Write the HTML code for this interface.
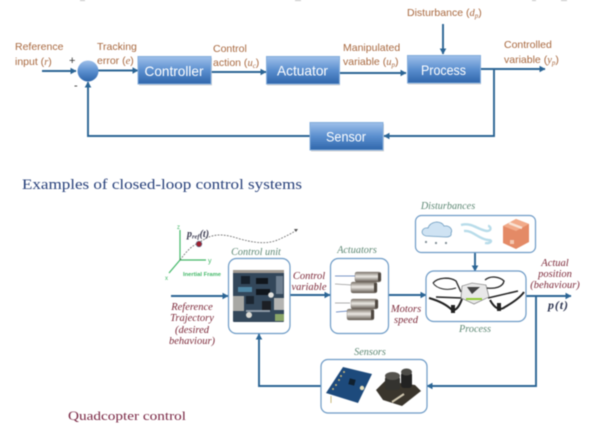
<!DOCTYPE html>
<html>
<head>
<meta charset="utf-8">
<style>
html,body{margin:0;padding:0;background:#fff}
svg{display:block;filter:blur(.5px)}
.l{font:10.5px "Liberation Sans",sans-serif;fill:#a8683f}
.m{font:italic 10.5px "Liberation Serif",serif}
.b{font:14px "Liberation Sans",sans-serif;fill:#fff;text-anchor:middle}
.r{font:italic 10.5px "Liberation Serif",serif;fill:#7d2a3a;text-anchor:middle}
.g{font:italic 10.2px "Liberation Serif",serif;fill:#5d8874;text-anchor:middle}
</style>
</head>
<body>
<svg width="608" height="436" viewBox="0 0 608 436" xmlns="http://www.w3.org/2000/svg">
<defs>
<linearGradient id="bl" x1="0" y1="0" x2="0" y2="1">
<stop offset="0" stop-color="#9fc0ea"/><stop offset=".5" stop-color="#5b8fcf"/><stop offset="1" stop-color="#2f66ab"/>
</linearGradient>
<linearGradient id="mt" x1="0" y1="0" x2="0" y2="1">
<stop offset="0" stop-color="#7d756c"/><stop offset=".45" stop-color="#ece9e4"/><stop offset="1" stop-color="#5f574f"/>
</linearGradient>
<marker id="a" markerWidth="7" markerHeight="7" refX="5.500" refY="3.500" orient="auto" markerUnits="userSpaceOnUse">
<path d="M0 .2L6 3.500L0 6.800z" fill="#2b6595"/>
</marker>
</defs>
<rect width="608" height="436" fill="#fff"/>
<g fill="#c4c4c4">
<rect x="80" y="0" width="5" height="1"/><rect x="295" y="0" width="6" height="1"/><rect x="532" y="0" width="4" height="1"/><rect x="561" y="0" width="6" height="1"/>
</g>

<!-- top diagram connectors -->
<g fill="none" stroke="#2b6595" stroke-width="1.900">
<path d="M42 71H76" marker-end="url(#a)"/>
<path d="M98 70.500H138" marker-end="url(#a)"/>
<path d="M211 72H266" marker-end="url(#a)"/>
<path d="M339 73H406" marker-end="url(#a)"/>
<path d="M443 24V54" marker-end="url(#a)"/>
<path d="M480 69H545" marker-end="url(#a)"/>
<path d="M494 69V136H384" marker-end="url(#a)"/>
<path d="M310 136H88V82" marker-end="url(#a)"/>
</g>

<!-- top diagram blocks -->
<circle cx="88" cy="71" r="10.500" fill="url(#bl)"/>
<g fill="#bbb" opacity=".6">
<rect x="139" y="58" width="73" height="27.500"/>
<rect x="267" y="58" width="73" height="27.500"/>
<rect x="408" y="57" width="73" height="27.500"/>
<rect x="311" y="124" width="73" height="27.500"/>
</g>
<g stroke="#85aedb" stroke-width="1" fill="url(#bl)">
<rect x="138" y="56.500" width="73" height="27.500"/>
<rect x="266.500" y="56.500" width="73" height="27.500"/>
<rect x="407.500" y="55.500" width="73" height="27.500"/>
<rect x="310" y="122.500" width="73" height="27.500"/>
</g>
<text class="b" x="174" y="76" textLength="59" lengthAdjust="spacingAndGlyphs">Controller</text>
<text class="b" x="302.500" y="75.500" textLength="51" lengthAdjust="spacingAndGlyphs">Actuator</text>
<text class="b" x="443.500" y="75" textLength="45" lengthAdjust="spacingAndGlyphs">Process</text>
<text class="b" x="346" y="141.500" textLength="40" lengthAdjust="spacingAndGlyphs">Sensor</text>

<!-- top diagram labels -->
<text class="l" x="15" y="50">Reference</text>
<text class="l" x="15" y="65">input (<tspan class="m">r</tspan>)</text>
<text x="69" y="64" font-family="Liberation Sans,sans-serif" font-size="11" fill="#333">+</text>
<text x="74" y="89" font-family="Liberation Sans,sans-serif" font-size="11" fill="#333">-</text>
<text class="l" x="97" y="50">Tracking</text>
<text class="l" x="97" y="64">error (<tspan class="m">e</tspan>)</text>
<text class="l" x="213" y="52">Control</text>
<text class="l" x="213" y="66">action (<tspan class="m">u<tspan font-size="7" dy="2">c</tspan></tspan><tspan dy="-2">)</tspan></text>
<text class="l" x="343" y="51">Manipulated</text>
<text class="l" x="343" y="65">variable (<tspan class="m">u<tspan font-size="7" dy="2">p</tspan></tspan><tspan dy="-2">)</tspan></text>
<text class="l" x="407" y="16">Disturbance (<tspan class="m">d<tspan font-size="7" dy="2">p</tspan></tspan><tspan dy="-2">)</tspan></text>
<text class="l" x="504" y="48">Controlled</text>
<text class="l" x="504" y="63">variable (<tspan class="m">y<tspan font-size="7" dy="2">p</tspan></tspan><tspan dy="-2">)</tspan></text>

<text x="22" y="189" font-family="Liberation Serif,serif" font-size="14.400" fill="#27407a" textLength="280" lengthAdjust="spacingAndGlyphs">Examples of closed-loop control systems</text>
<text x="68" y="420" font-family="Liberation Serif,serif" font-size="12.500" fill="#7a2845" textLength="118" lengthAdjust="spacingAndGlyphs">Quadcopter control</text>

<!-- inertial frame -->
<g fill="none" stroke="#43b868" stroke-width="1.200">
<path d="M180 260V230"/><path d="M180 260H206"/><path d="M180 260L169 273"/>
</g>
<g font-family="Liberation Sans,sans-serif" fill="#43b868">
<text x="177" y="229" font-size="6">z</text>
<text x="208" y="263" font-size="7">y</text>
<text x="165" y="280" font-size="6">x</text>
<text x="183" y="276" font-size="5.800" font-weight="bold">Inertial Frame</text>
</g>
<path d="M180 260C186 252 192 245 199 243C212 232 225 234 240 239C262 245 272 243 282 238C288 235 293 233 296 230" fill="none" stroke="#666" stroke-width=".8" stroke-dasharray="1.800 1.300"/>
<path d="M294 229L298 229L296 232z" fill="#555"/>
<circle cx="199" cy="244" r="2.800" fill="#a01f2d" stroke="#5c6d8c" stroke-width=".7"/>
<text x="187" y="237" font-family="Liberation Serif,serif" font-size="10" font-weight="bold" font-style="italic" fill="#3a3a50">p<tspan font-size="6.500" dy="1.500">ref</tspan><tspan dy="-1.500">(t)</tspan></text>

<!-- bottom connectors -->
<g fill="none" stroke="#2b6595" stroke-width="1.900">
<path d="M171 296H228" marker-end="url(#a)"/>
<path d="M290 295H330" marker-end="url(#a)"/>
<path d="M388 295H426" marker-end="url(#a)"/>
<path d="M475 252V271" marker-end="url(#a)"/>
<path d="M526 296H571" marker-end="url(#a)"/>
<path d="M536 296V386H427" marker-end="url(#a)"/>
<path d="M321 386H259V334" marker-end="url(#a)"/>
</g>

<!-- bottom boxes -->
<g fill="#fff" stroke="#6c9ac6" stroke-width="1.200">
<rect x="228.500" y="258.500" width="61.500" height="75" rx="8"/>
<rect x="330.500" y="258.500" width="58" height="75" rx="8"/>
<rect x="415.500" y="215.500" width="120" height="37" rx="6"/>
<rect x="426" y="271" width="100" height="50.500" rx="8"/>
<rect x="321" y="359.500" width="106" height="53.500" rx="7"/>
</g>

<!-- board -->
<rect x="233" y="270" width="51" height="52" rx="1" fill="#33475a"/>
<rect x="233" y="270" width="51" height="3" fill="#a09a92"/>
<rect x="233" y="296" width="11" height="15" fill="#a8a8a4"/>
<rect x="276" y="276" width="7" height="18" fill="#6e7f90"/>
<rect x="274" y="298" width="10" height="12" fill="#b4b4b2"/>
<rect x="275" y="314" width="9" height="7" fill="#8aa668"/>
<rect x="241" y="276" width="9" height="8" fill="#16202b"/>
<rect x="256" y="278" width="12" height="6" fill="#10161c"/>
<rect x="256" y="289" width="14" height="6" fill="#10161c"/>
<rect x="262" y="301" width="9" height="9" fill="#1c1f24"/>
<circle cx="271" cy="295" r="2.800" fill="#e2e2de"/>
<circle cx="249" cy="315" r="3" fill="#dcdbd4"/>
<rect x="246" y="296" width="8" height="8" fill="#1b2530"/>
<rect x="238" y="287" width="14" height="5" fill="#4f86a4"/>
<rect x="246" y="310" width="24" height="2" fill="#8c9aa6"/>

<!-- motors -->
<g stroke="#4f73b5" stroke-width=".8" fill="none">
<path d="M335 276L355 276"/><path d="M335 284L352 285" stroke="#999"/><path d="M335 303L350 303" stroke="#999"/><path d="M336 312L348 311" stroke="#4f73b5"/>
</g>
<g stroke="#6b6259" stroke-width=".3" fill="url(#mt)">
<rect x="355" y="272" width="26" height="10" rx="2"/>
<rect x="351" y="282" width="26" height="11" rx="2"/>
<rect x="351" y="299" width="27" height="10" rx="2"/>
<rect x="347" y="309" width="27" height="11" rx="2"/>
</g>
<g fill="#4e4740">
<rect x="378" y="273" width="3" height="8"/><rect x="374" y="283" width="3" height="9"/><rect x="375" y="300" width="3" height="8"/><rect x="371" y="310" width="3" height="9"/>
</g>

<!-- disturbances -->
<path d="M426 236C420 235 421 227 428 228C430 221 441 220 444 226C450 225 453 230 451 233C452 236 449 237 446 237z" fill="#cfe3f3" stroke="#6d9cc0" stroke-width=".8"/>
<g fill="#7d8a93">
<circle cx="426" cy="242" r="1.100"/><circle cx="436" cy="243" r="1.100"/><circle cx="446" cy="243" r="1.100"/>
</g>
<g fill="none" stroke="#b8dcea" stroke-width="2.400">
<path d="M461 225C472 222 478 230 487 231C492 231 491 226 488 226"/>
<path d="M464 231C473 230 478 239 488 240C494 240 490 244 485 243"/>
</g>
<path d="M503 226L516 219L529 224V242L516 249L503 243z" fill="#e48a66"/>
<path d="M503 226L516 219L529 224L516 231z" fill="#f2ab8a"/>
<path d="M509 223L522 228" stroke="#f9e2d4" stroke-width="2.500"/>
<rect x="510" y="240" width="4" height="4" fill="#f4c6b0"/>

<!-- drone -->
<g fill="none" stroke="#222">
<path d="M433 283C438 277 450 277 456 281L461 292" stroke-width="1.300"/>
<path d="M433 283C437 289 447 291 456 288" stroke-width="1"/>
<path d="M485 280C491 275 500 277 504 281C503 287 495 289 487 288" stroke-width="1.300"/>
<path d="M487 288L483 296" stroke-width="1.500"/>
<path d="M429 298C436 300 445 303 452 310C456 311 459 307 462 299" stroke-width="2"/>
<path d="M436 297L462 298" stroke-width="1.500"/>
<path d="M524 292C520 298 512 303 505 307C500 311 495 309 490 300" stroke-width="2"/>
<path d="M488 298L518 291" stroke-width="1.500"/>
</g>
<path d="M462 286L472 283L486 285L489 297L474 304L461 298z" fill="#e8e8e8" stroke="#666" stroke-width=".6"/>
<path d="M467 287L472 294L480 287" fill="#444"/>
<path d="M466 299L482 299" stroke="#8ac926" stroke-width="1.800"/>
<rect x="451" y="305" width="4" height="8" fill="#222"/><rect x="497" y="303" width="4" height="8" fill="#222"/>

<!-- sensors -->
<path d="M343 367L372 374L358 403L326 393z" fill="#1d4a7c"/>
<g fill="#c9b778"><circle cx="344" cy="372" r="1"/><circle cx="341" cy="376" r="1"/><circle cx="339" cy="380" r="1"/><circle cx="336" cy="385" r="1"/><circle cx="333" cy="389" r="1"/></g>
<rect x="349" y="379" width="6" height="6" fill="#10202f" transform="rotate(15 352 382)"/>
<circle cx="362" cy="388" r="2.200" fill="#e8dfb8"/>
<path d="M331 396V403" stroke="#c9b778" stroke-width="1"/>
<path d="M376 390L385 381L415 385L421 391L402 406L383 400z" fill="#3a352c"/>
<path d="M392 402L404 394" stroke="#cfc6ae" stroke-width="2"/>
<rect x="385" y="376" width="15" height="14" rx="3" fill="#34332f"/>
<ellipse cx="392.500" cy="376" rx="7.500" ry="4" fill="#55534e"/>
<rect x="401" y="372" width="11" height="16" rx="3" fill="#222"/>
<ellipse cx="406.500" cy="372" rx="5.500" ry="3.500" fill="#4c4b47"/>

<!-- bottom labels -->
<text class="g" x="256" y="255">Control unit</text>
<text class="g" x="357" y="253">Actuators</text>
<text class="g" x="448" y="209">Disturbances</text>
<text class="g" x="475" y="332">Process</text>
<text class="g" x="370" y="355">Sensors</text>
<text class="r" x="309" y="279">Control</text>
<text class="r" x="309" y="290">variable</text>
<text class="r" x="406" y="312">Motors</text>
<text class="r" x="406" y="323">speed</text>
<text class="r" x="192" y="310">Reference</text>
<text class="r" x="192" y="321">Trajectory</text>
<text class="r" x="192" y="333">(desired</text>
<text class="r" x="192" y="344">behaviour)</text>
<text class="r" x="555" y="266">Actual</text>
<text class="r" x="555" y="277">position</text>
<text class="r" x="555" y="288">(behaviour)</text>
<text x="548" y="309" font-family="Liberation Serif,serif" font-size="12" font-weight="bold" font-style="italic" fill="#2c3450" textLength="20">p(t)</text>
</svg>
</body>
</html>
